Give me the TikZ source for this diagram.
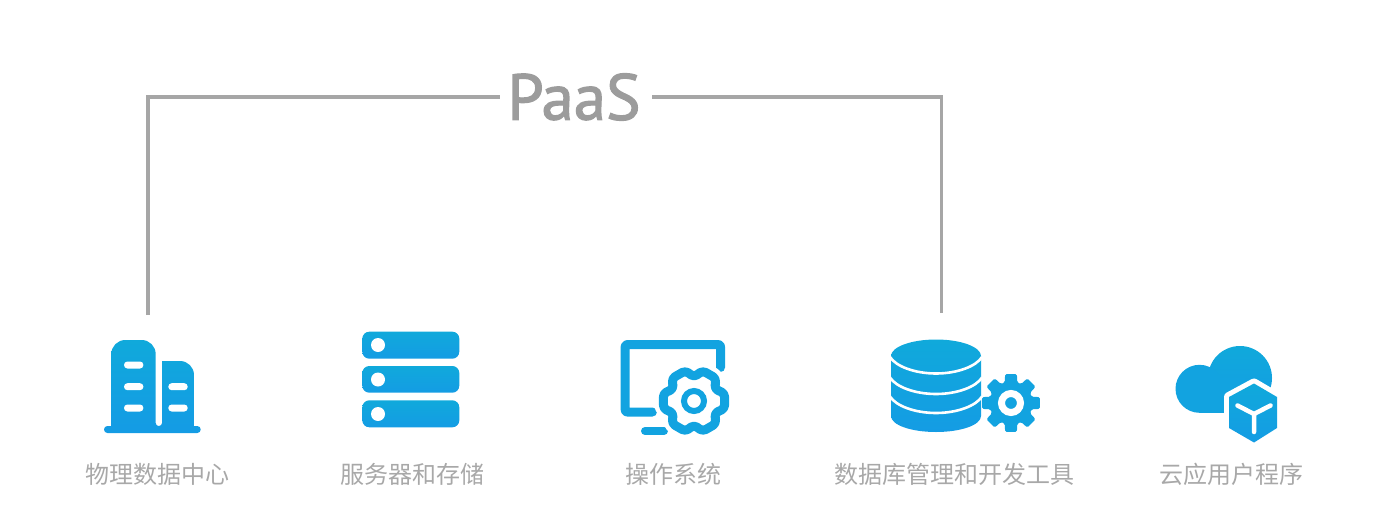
\documentclass[tikz,border=0pt]{standalone}
\usepackage{fontspec}
\setmainfont{PT Sans}[FakeBold=1.8]
\newfontfamily\cjk{Noto Sans CJK SC}
\definecolor{icontop}{HTML}{10A9DB}
\definecolor{iconbot}{HTML}{149CE4}
\definecolor{iconmid}{HTML}{12A3E0}
\definecolor{rulegray}{HTML}{A6A6A6}
\definecolor{labelgray}{HTML}{A8A8A8}
\definecolor{titlegray}{HTML}{9C9C9C}
\tikzset{
  iconfill/.style={top color=icontop,bottom color=iconbot,draw=none},
  iconline/.style={draw=iconmid,line cap=round,line join=round},
  bracket/.style={draw=rulegray,line width=3.6pt},
  caption/.style={font=\cjk\fontsize{24}{28}\selectfont,text=labelgray,inner sep=0pt},
  titlelabel/.style={font=\fontsize{65}{72}\selectfont,text=titlegray,inner sep=0pt,minimum width=152pt,minimum height=60pt},
}
\begin{document}
\begin{tikzpicture}[x=1pt,y=-1pt]
\useasboundingbox (0,0) rectangle (1400,514);

% title and bracket
\node[titlelabel] (paas) at (576,97) {\hspace*{-4pt}PaaS};
\coordinate (leftfoot) at (148,315);
\coordinate (rightfoot) at (941.5,313);
\draw[bracket] (leftfoot) |- (paas.west);
\draw[bracket] (rightfoot) |- (paas.east);

% office towers
\shade[iconfill] (111.3,427) [rounded corners=14pt] -- (111.3,340) -- (155.7,340)
  [rounded corners=3pt] -- (155.7,426) -- (162,426) [sharp corners] -- (162,361)
  [rounded corners=14pt] -- (194,361) [sharp corners] -- (194,427) -- cycle;
\fill[iconbot,rounded corners=3.4pt] (104,426) rectangle (200.7,433);
\foreach \wx/\wy in {124/365,124/386.7,124/408,168.3/386.7,168.3/408}{
  \fill[white,rounded corners=3.4pt] (\wx,\wy-3.5) rectangle (\wx+19.4,\wy+3.5);
}

% server rack
\foreach \sy/\sh/\cy in {331.7/358.7/345,366/392.7/379.5,400.3/427.3/414}{
  \shade[iconfill,rounded corners=7pt] (362.3,\sy) rectangle (459.3,\sh);
  \fill[white] (378,\cy) circle[radius=7pt];
}

% monitor with settings gear
\draw[iconline,line width=9pt,rounded corners=2pt]
  (720.5,367.5) -- (720.5,344.6) -- (625.2,344.6) -- (625.2,412) -- (652.5,412);
\draw[iconline,line width=8pt] (645,431) -- (664,431);
\begin{scope}[shift={(694,401)}]
  \def\gearoutline{[rounded corners=3.5pt] (-14:31.5) -- (14:31.5) -- (30:24)
    \foreach \a in {60,120,...,300}{ -- (\a-14:31.5) -- (\a+14:31.5) -- (\a+30:24) } -- cycle}
  \path[draw=white,fill=white,line width=18pt,line join=round] \gearoutline;
  \path[draw=iconmid,line width=9pt,line join=round] \gearoutline;
  \draw[draw=iconmid,line width=6pt] (0,0) circle[radius=10pt];
\end{scope}

% database cylinder
\shade[iconfill] (891,356) -- (891,416)
  .. controls (891,425) and (911,432) .. (936,432)
  .. controls (961,432) and (981,425) .. (981,416)
  -- (981,356)
  .. controls (981,347) and (961,339.5) .. (936,339.5)
  .. controls (911,339.5) and (891,347) .. (891,356) -- cycle;
\foreach \dy in {357,377.5,396.5}{
  \draw[white,line width=2.6pt] (890,\dy) .. controls (896,\dy+9.5) and (915,\dy+16.5) .. (936,\dy+16.5)
    .. controls (957,\dy+16.5) and (976,\dy+9.5) .. (982,\dy);
}

% database gear
\begin{scope}[shift={(1011,403)}]
  \fill[iconmid,rounded corners=1.5pt] (-17:21.5) -- (-11.5:29.5) -- (11.5:29.5) -- (17:21.5)
    \foreach \a in {45,90,...,315}{ -- (\a-17:21.5) -- (\a-11.5:29.5) -- (\a+11.5:29.5) -- (\a+17:21.5) } -- cycle;
  \draw[white,line width=7pt] (0,0) circle[radius=9.5pt];
\end{scope}

% cloud with application cube
\shade[iconfill] (1240,378) circle[radius=32pt];
\fill[iconmid] (1199.5,388.8) circle[radius=24pt];
\fill[iconmid] (1199.5,378) rectangle (1245,412.8);
\path[fill=white,draw=white,line width=10pt,line join=round]
  (1254,383.5) -- (1277,397) -- (1277,428) -- (1254,442.5) -- (1229,428) -- (1229,397) -- cycle;
\shade[iconfill] (1254,383.5) -- (1277,397) -- (1277,428) -- (1254,442.5) -- (1229,428) -- (1229,397) -- cycle;
\draw[white,line width=4.5pt,line cap=round,line join=round]
  (1237.5,405.5) -- (1254,414) -- (1270.5,405.5) (1254,414) -- (1254,432);

% captions
\node[caption] (cap1) at (157,474) {物理数据中心};
\node[caption] (cap2) at (412,474) {服务器和存储};
\node[caption] (cap3) at (673,474) {操作系统};
\node[caption] (cap4) at (954,474) {数据库管理和开发工具};
\node[caption] (cap5) at (1231,474) {云应用户程序};
\end{tikzpicture}
\end{document}
